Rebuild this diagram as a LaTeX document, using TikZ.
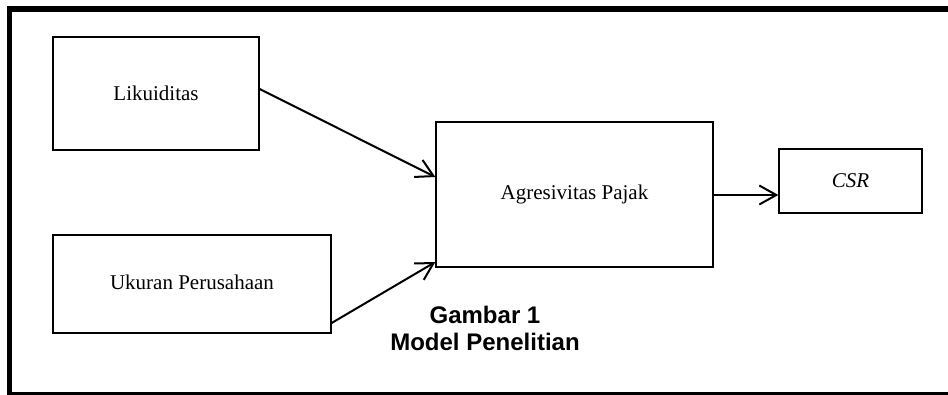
\documentclass[tikz,border=0pt]{standalone}
\usepackage{fontspec}
\setmainfont{Liberation Serif}
\newfontfamily\captionfont{Liberation Sans}
\usetikzlibrary{arrows.meta}

\tikzset{
    varbox/.style={draw, line width=1.3pt, inner sep=0pt,
                   font=\fontsize{21}{25}\selectfont},
    panah/.style={line width=2pt, -{Straight Barb[length=17pt,width=19pt,line width=2pt]}}
}

\begin{document}
\begin{tikzpicture}[x=1pt, y=-1pt]
    \clip (0,0) rectangle (948,394);
    \draw[line width=5.5pt] (9.5,9) rectangle (951,394.5);
%    variabel
    \node[varbox, minimum width=206pt, minimum height=113pt] (lik) at (156,93.5) {Likuiditas};
    \node[varbox, minimum width=278pt, minimum height=98pt] (uk) at (192,284) {\raisebox{3pt}{Ukuran Perusahaan}};
    \node[varbox, minimum width=277pt, minimum height=145pt] (agr) at (574.5,194.5) {Agresivitas Pajak};
    \node[varbox, minimum width=143pt, minimum height=64pt] (csr) at (850.5,181) {\textit{CSR}};
    \node[font=\captionfont\bfseries\fontsize{24}{27}\selectfont, align=center] (gbr) at (485,328) {Gambar 1\\Model Penelitian};
    \draw[panah] ([yshift=4.5pt]lik.east) -- ([yshift=17.5pt]agr.west);
    \draw[panah] ([yshift=-39pt]uk.east) -- ([yshift=-67.5pt]agr.west);
    \draw[panah] ([yshift=-0.5pt]agr.east) -- ([yshift=-14pt]csr.west);
\end{tikzpicture}
\end{document}
